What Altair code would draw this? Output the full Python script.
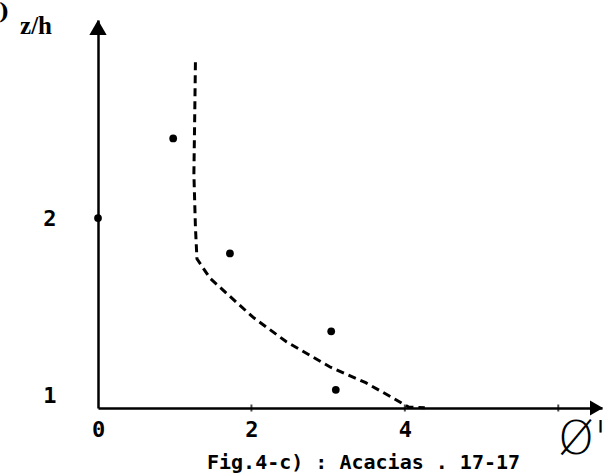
import altair as alt
import pandas as pd

# scattered measurements (phi', z/h)
pt_x = [0.0, 0.98, 1.72, 3.04, 3.10]
pt_y = [2.00, 2.45, 1.80, 1.36, 1.03]

# dashed profile
ln_x = [1.27, 1.26, 1.25, 1.27, 1.29, 1.46, 2.02, 2.46, 3.02, 3.49, 3.86, 4.05, 4.26]
ln_y = [2.88, 2.55, 2.25, 1.95, 1.77, 1.66, 1.44, 1.30, 1.16, 1.07, 0.98, 0.932, 0.928]

x_labels = [0, 2, 4]
x_ticks = [2, 4, 6]
y_labels = [1, 2]

x_title = "Ø'"
y_title = "z/h"
caption = "Fig.4-c) : Acacias . 17-17"

X_DOM = [0, 6.57]
Y_DOM = [0.927, 3.119]

pts = pd.DataFrame({"x": pt_x, "y": pt_y})
line = pd.DataFrame({"x": ln_x, "y": ln_y, "o": list(range(len(ln_x)))})
ticks = pd.DataFrame({"x": x_ticks})
one = pd.DataFrame({"a": [0]})

label_font = "DejaVu Sans Mono"

xaxis = alt.Axis(values=x_labels, title=None, grid=False, ticks=False, tickSize=0,
                 domainColor="black", domainWidth=2.5, labelFont=label_font,
                 labelFontWeight="bold", labelFontSize=22, labelColor="black",
                 labelPadding=11, labelFlush=False, format="d")
yaxis = alt.Axis(values=y_labels, title=None, grid=False, ticks=False, tickSize=0,
                 domainColor="black", domainWidth=2.5, labelFont=label_font,
                 labelFontWeight="bold", labelFontSize=22, labelColor="black",
                 labelPadding=42, labelFlush=False, format="d")

xs = alt.Scale(domain=X_DOM, nice=False, zero=False)
ys = alt.Scale(domain=Y_DOM, nice=False, zero=False)

dots = alt.Chart(pts).mark_circle(size=60, color="black", opacity=1).encode(
    x=alt.X("x:Q", scale=xs, axis=xaxis),
    y=alt.Y("y:Q", scale=ys, axis=yaxis),
)

dash = alt.Chart(line).mark_line(color="black", strokeWidth=3, strokeDash=[8, 5]).encode(
    x=alt.X("x:Q", scale=xs, axis=xaxis),
    y=alt.Y("y:Q", scale=ys, axis=yaxis),
    order="o:Q",
)

tk = alt.Chart(ticks).mark_tick(color="black", size=7, thickness=2).encode(
    x=alt.X("x:Q", scale=xs, axis=xaxis),
    y=alt.value(388),
)

arrow_up = alt.Chart(one).mark_point(shape="triangle-up", filled=True, size=300,
                                     color="black", opacity=1).encode(
    x=alt.value(0), y=alt.value(7.5))
arrow_right = alt.Chart(one).mark_point(shape="triangle-right", filled=True, size=225,
                                        color="black", opacity=1).encode(
    x=alt.value(498.5), y=alt.value(388))

paren = alt.Chart(one).mark_text(text=")", font="DejaVu Serif", fontSize=22,
                                 fontWeight="bold", align="left", baseline="middle",
                                 color="black").encode(x=alt.value(-99), y=alt.value(-8))
ytitle = alt.Chart(one).mark_text(text=y_title, font="Liberation Serif", fontSize=25,
                                  fontWeight="bold", align="center", baseline="middle",
                                  color="black").encode(x=alt.value(-62), y=alt.value(6))
xtitle = alt.Chart(one).mark_text(text=x_title, font="DejaVu Sans", fontSize=46,
                                  fontWeight=200, align="left", baseline="alphabetic",
                                  color="black").encode(x=alt.value(460), y=alt.value(434))
cap = alt.Chart(one).mark_text(text=caption, font=label_font, fontSize=20,
                               fontWeight="bold", align="left", baseline="alphabetic",
                               color="black").encode(x=alt.value(109), y=alt.value(449))

chart = alt.layer(dash, dots, tk, arrow_up, arrow_right, paren, ytitle, xtitle, cap).properties(
    width=504, height=388,
    padding={"left": 98, "top": 20, "right": 11, "bottom": 66},
    autosize=alt.AutoSizeParams(type="none"),
    background="white",
).configure_view(stroke=None)

chart.save("out.html", embed_options={"renderer": "svg", "actions": False})
